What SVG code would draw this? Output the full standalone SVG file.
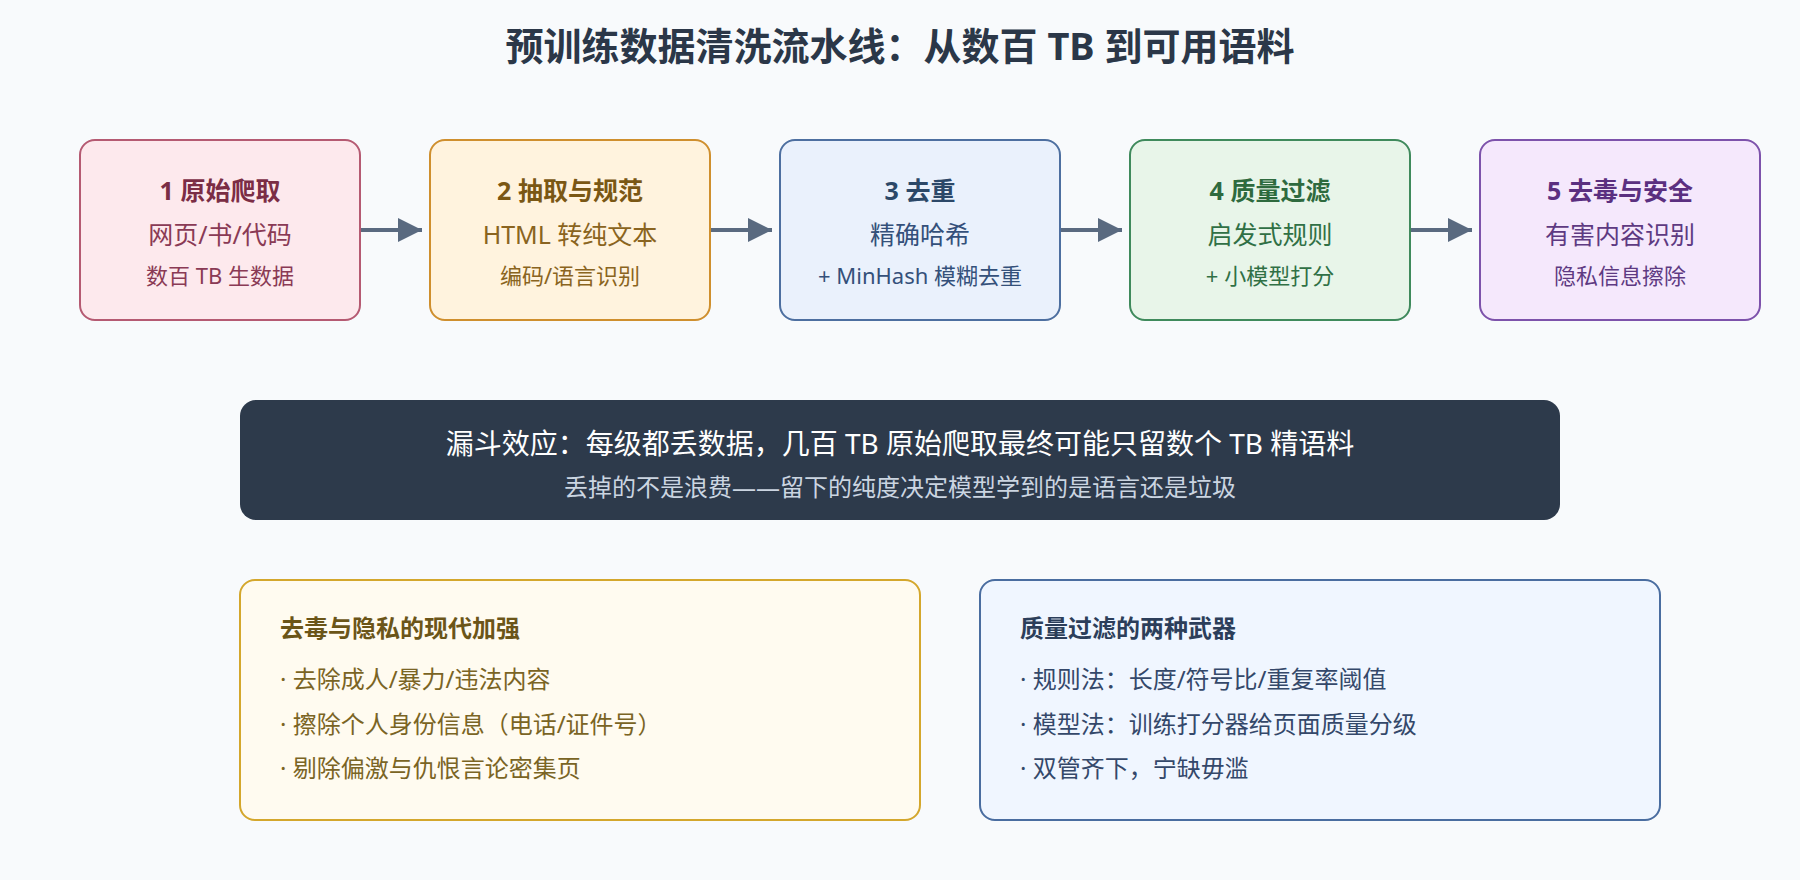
<svg xmlns="http://www.w3.org/2000/svg" width="1800" height="880" viewBox="0 0 1800 880">
<defs>
<marker id="arr" markerUnits="userSpaceOnUse" markerWidth="24" markerHeight="24" refX="24" refY="12" orient="auto">
<path d="M0,0 L24,12 L0,24 Z" fill="#5a6a80"/>
</marker>
<style>
text{font-family:'Noto Sans','Noto Sans CJK SC',sans-serif;}
.title{font-size:38px;font-weight:700;fill:#2b3748;}
.bt{font-size:25px;font-weight:700;text-anchor:middle;}
.b2{font-size:25px;text-anchor:middle;}
.b3{font-size:22px;text-anchor:middle;}
.box{stroke-width:2;}
.conn line{stroke:#5a6a80;stroke-width:4;marker-end:url(#arr);}
.h{font-size:24px;font-weight:700;}
.li{font-size:24px;}
</style>
</defs>
<rect width="1800" height="880" fill="#f8fafc"/>
<text class="title" x="900" y="60" text-anchor="middle">预训练数据清洗流水线：从数百 TB 到可用语料</text>

<g id="n1">
<rect class="box" x="80" y="140" width="280" height="180" rx="15" fill="#fde9ed" stroke="#b55a72"/>
<text class="bt" x="220" y="200" fill="#7b2d45">1 原始爬取</text>
<text class="b2" x="220" y="244" fill="#8a3a55">网页/书/代码</text>
<text class="b3" x="220" y="284" fill="#8a3a55">数百 TB 生数据</text>
</g>
<g id="n2">
<rect class="box" x="430" y="140" width="280" height="180" rx="15" fill="#fff3de" stroke="#cf8f2e"/>
<text class="bt" x="570" y="200" fill="#7a5714">2 抽取与规范</text>
<text class="b2" x="570" y="244" fill="#8a6420">HTML 转纯文本</text>
<text class="b3" x="570" y="284" fill="#8a6420">编码/语言识别</text>
</g>
<g id="n3">
<rect class="box" x="780" y="140" width="280" height="180" rx="15" fill="#eaf1fc" stroke="#4d6fa0"/>
<text class="bt" x="920" y="200" fill="#2c4868">3 去重</text>
<text class="b2" x="920" y="244" fill="#34507a">精确哈希</text>
<text class="b3" x="920" y="284" fill="#34507a">+ MinHash 模糊去重</text>
</g>
<g id="n4">
<rect class="box" x="1130" y="140" width="280" height="180" rx="15" fill="#e8f5e9" stroke="#3f8a5c"/>
<text class="bt" x="1270" y="200" fill="#2e6a3e">4 质量过滤</text>
<text class="b2" x="1270" y="244" fill="#307045">启发式规则</text>
<text class="b3" x="1270" y="284" fill="#307045">+ 小模型打分</text>
</g>
<g id="n5">
<rect class="box" x="1480" y="140" width="280" height="180" rx="15" fill="#f5e8fc" stroke="#7d52ab"/>
<text class="bt" x="1620" y="200" fill="#5b2f80">5 去毒与安全</text>
<text class="b2" x="1620" y="244" fill="#5e3a82">有害内容识别</text>
<text class="b3" x="1620" y="284" fill="#5e3a82">隐私信息擦除</text>
</g>

<g id="connectors" class="conn">
<line x1="361" y1="230" x2="422" y2="230"/>
<line x1="711" y1="230" x2="772" y2="230"/>
<line x1="1061" y1="230" x2="1122" y2="230"/>
<line x1="1411" y1="230" x2="1472" y2="230"/>
</g>

<g id="banner">
<rect x="240" y="400" width="1320" height="120" rx="16" fill="#2d3a4b"/>
<text x="900" y="454" text-anchor="middle" font-size="28" fill="#ffffff">漏斗效应：每级都丢数据，几百 TB 原始爬取最终可能只留数个 TB 精语料</text>
<text x="900" y="496" text-anchor="middle" font-size="24" fill="#cbd5e1">丢掉的不是浪费——留下的纯度决定模型学到的是语言还是垃圾</text>
</g>

<g id="detox">
<rect x="240" y="580" width="680" height="240" rx="15" fill="#fffbf0" stroke="#d4a72c" stroke-width="2"/>
<text class="h" x="280" y="637" fill="#6b5518" font-size="25">去毒与隐私的现代加强</text>
<text class="li" x="280" y="688" fill="#7a6424">· 去除成人/暴力/违法内容</text>
<text class="li" x="280" y="733" fill="#7a6424">· 擦除个人身份信息（电话/证件号）</text>
<text class="li" x="280" y="777" fill="#7a6424">· 剔除偏激与仇恨言论密集页</text>
</g>

<g id="quality">
<rect x="980" y="580" width="680" height="240" rx="15" fill="#f0f6ff" stroke="#4a6da0" stroke-width="2"/>
<text class="h" x="1020" y="637" fill="#2c3e5a" font-size="25">质量过滤的两种武器</text>
<text class="li" x="1020" y="688" fill="#34486a">· 规则法：长度/符号比/重复率阈值</text>
<text class="li" x="1020" y="733" fill="#34486a">· 模型法：训练打分器给页面质量分级</text>
<text class="li" x="1020" y="777" fill="#34486a">· 双管齐下，宁缺毋滥</text>
</g>
</svg>
